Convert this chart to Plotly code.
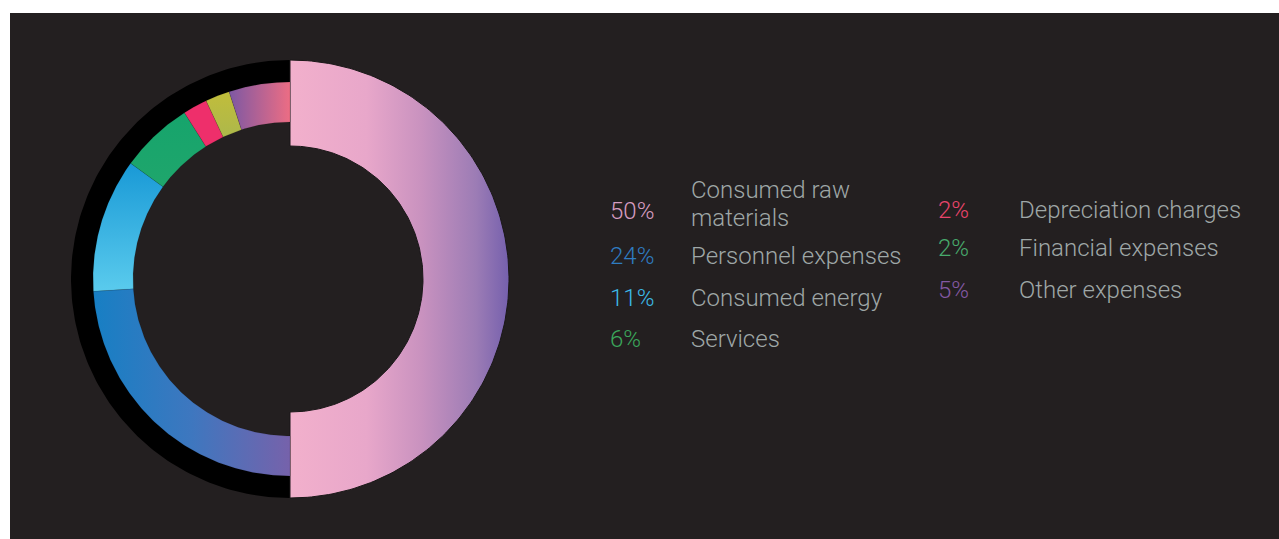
import numpy as np
import plotly.graph_objects as go

# Cost structure shares (percent)
categories = ["Consumed raw materials", "Personnel expenses", "Consumed energy",
              "Services", "Depreciation charges", "Financial expenses", "Other expenses"]
shares = [50, 24, 11, 6, 2, 2, 5]
pct_labels = ["50%", "24%", "11%", "6%", "2%", "2%", "5%"]
legend_lines = [["Consumed raw", "materials"], ["Personnel expenses"], ["Consumed energy"],
                ["Services"], ["Depreciation charges"], ["Financial expenses"], ["Other expenses"]]

# Fill gradients per slice: (orientation, colorscale)
gradients = [
    ("horizontal", [[0, "#f2b0cc"], [0.35, "#e8a7ca"], [0.6, "#c992bf"], [0.85, "#9c7cb5"], [1, "#7560ad"]]),
    ("horizontal", [[0, "#177fc4"], [0.5, "#3e77bf"], [1, "#7662ab"]]),
    ("vertical", [[0, "#5acbed"], [1, "#1999d6"]]),
    ("vertical", [[0, "#1fa66c"], [1, "#16a46c"]]),
    ("vertical", [[0, "#ee2f6b"], [1, "#ee2f6b"]]),
    ("vertical", [[0, "#adb84b"], [1, "#c1bd3b"]]),
    ("horizontal", [[0, "#7d58a3"], [1, "#ec6d84"]]),
]
pct_colors = ["#d69cc1", "#2f7cc1", "#3cb9e7", "#3ba65b", "#e8456b", "#48aa6c", "#8459a3"]
label_color = "#9fa7a7"

W, H = 1279, 539
BG = "#231f20"
cx, cy = 290, H - 279          # ring centre
R_BIG = (133, 219)             # radii of the leading slice
R_SMALL = (157, 197)           # radii of the remaining slices
R_SHADOW = (196, 219)          # black backing ring on the left half


def arc_polygon(a0, a1, r_in, r_out, n=160):
    """Closed annulus sector between angles a0 -> a1 (degrees, math convention)."""
    t = np.radians(np.linspace(a0, a1, n))
    xo, yo = cx + r_out * np.cos(t), cy + r_out * np.sin(t)
    xi, yi = cx + r_in * np.cos(t[::-1]), cy + r_in * np.sin(t[::-1])
    xs = np.concatenate([xo, xi, xo[:1]])
    ys = np.concatenate([yo, yi, yo[:1]])
    return xs, ys


fig = go.Figure()

# black shadow ring behind the thin slices
sx, sy = arc_polygon(90, 270, *R_SHADOW)
fig.add_trace(go.Scatter(x=sx, y=sy, fill="toself", fillcolor="#000000",
                         line=dict(width=0), mode="lines", hoverinfo="skip",
                         showlegend=False))

# slices, clockwise from 12 o'clock
total = float(sum(shares))
cum = 0.0
for i, (name, val) in enumerate(zip(categories, shares)):
    a0 = 90 - 360 * cum / total
    a1 = 90 - 360 * (cum + val) / total
    cum += val
    radii = R_BIG if i == 0 else R_SMALL
    xs, ys = arc_polygon(a0, a1, *radii)
    orient, cs = gradients[i]
    fig.add_trace(go.Scatter(
        x=xs, y=ys, mode="lines", fill="toself",
        fillgradient=dict(type=orient, colorscale=cs),
        line=dict(width=1 if i == 0 else 0.4, color="#1a1718" if i == 0 else "rgba(0,0,0,0.25)"),
        name=name, hoverinfo="name", showlegend=False,
    ))

# legend-like labels in two columns
font_family = "Roboto, 'Open Sans', sans-serif"
FS = 24
col_pct_x = [608, 936]
col_txt_x = [690, 1018]
rows_y = [[211, 256, 298, 339], [210, 248, 290]]
LINE_STEP = 28
idx = 0
for col, ys_col in enumerate(rows_y):
    for yy in ys_col:
        fig.add_annotation(x=col_pct_x[col], y=H - yy, text=pct_labels[idx],
                           xanchor="left", yanchor="middle", showarrow=False,
                           font=dict(family=font_family, size=FS, color=pct_colors[idx], weight=300))
        lines = legend_lines[idx]
        # two-line labels sit slightly above the percentage
        top = yy - (LINE_STEP * (len(lines) - 1) / 2 + (7 if len(lines) > 1 else 0))
        for k, line in enumerate(lines):
            fig.add_annotation(x=col_txt_x[col], y=H - (top + k * LINE_STEP), text=line,
                               xanchor="left", yanchor="middle", showarrow=False,
                               borderpad=0,
                               font=dict(family=font_family, size=FS, color=label_color, weight=300))
        idx += 1

fig.update_layout(
    width=W, height=H,
    margin=dict(l=0, r=0, t=0, b=0),
    paper_bgcolor="#ffffff",
    plot_bgcolor="#ffffff",
    xaxis=dict(range=[0, W], visible=False, fixedrange=True),
    yaxis=dict(range=[0, H], visible=False, fixedrange=True),
    shapes=[dict(type="rect", xref="x", yref="y", x0=10, x1=W, y0=0, y1=H - 13,
                 fillcolor=BG, line=dict(width=0), layer="below")],
)

fig.write_html("out.html")
